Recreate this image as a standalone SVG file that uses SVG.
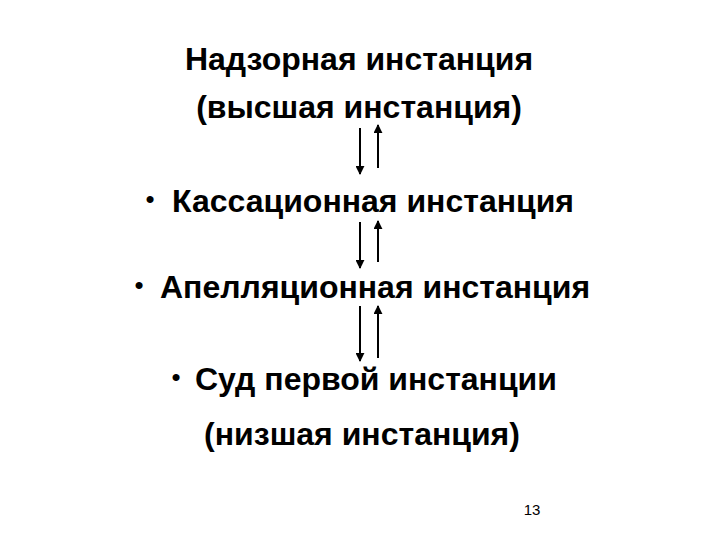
<svg xmlns="http://www.w3.org/2000/svg" width="720" height="540" viewBox="0 0 720 540">
<style>
.t{font-family:"Liberation Sans",Arial,sans-serif;font-weight:bold;font-size:32px;fill:#000}
.m{text-anchor:middle}
.b{font-family:"Liberation Sans",Arial,sans-serif;font-size:26px;fill:#000;text-anchor:middle}
.c{stroke:#000;stroke-width:2;fill:none}
</style>
<defs>
<marker id="ah" viewBox="0 0 10 10" refX="9" refY="5" markerWidth="4.5" markerHeight="4.5" orient="auto" markerUnits="strokeWidth">
<path d="M0,0 L10,5 L0,10 z" fill="#000"/>
</marker>
</defs>
<rect width="720" height="540" fill="#fff"/>
<g id="n1"><text class="t m" x="359" y="70">Надзорная инстанция</text><text class="t m" x="359" y="118">(высшая инстанция)</text></g>
<g id="n2"><text class="b" x="150" y="208">•</text><text class="t" x="172" y="212">Кассационная инстанция</text></g>
<g id="n3"><text class="b" x="139" y="294">•</text><text class="t" x="160" y="298">Апелляционная инстанция</text></g>
<g id="n4"><text class="b" x="176" y="386">•</text><text class="t" x="195" y="390">Суд первой инстанции</text><text class="t m" x="362" y="445">(низшая инстанция)</text></g>
<g id="connectors">
<line class="c" x1="360" y1="128" x2="360" y2="174" marker-end="url(#ah)"/>
<line class="c" x1="378" y1="168" x2="378" y2="125" marker-end="url(#ah)"/>
<line class="c" x1="360" y1="222" x2="360" y2="268" marker-end="url(#ah)"/>
<line class="c" x1="378" y1="262" x2="378" y2="221" marker-end="url(#ah)"/>
<line class="c" x1="360" y1="306" x2="360" y2="361" marker-end="url(#ah)"/>
<line class="c" x1="378" y1="358" x2="378" y2="306" marker-end="url(#ah)"/>
</g>
<text x="532" y="515" style="font-family:'Liberation Sans',Arial,sans-serif;font-size:15px;text-anchor:middle">13</text>
</svg>
